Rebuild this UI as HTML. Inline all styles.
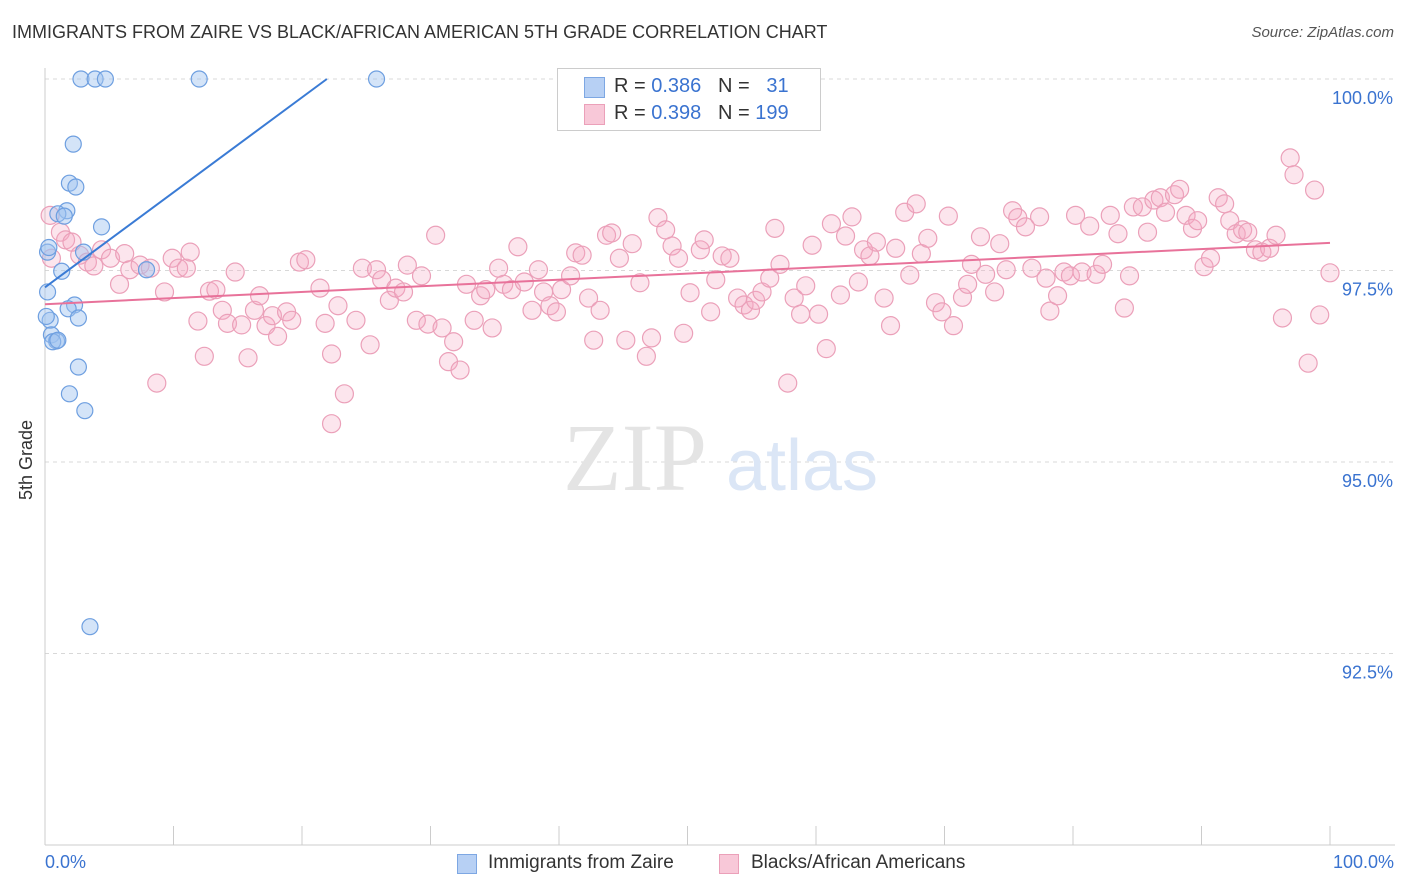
<!DOCTYPE html>
<html><head><meta charset="utf-8"><style>
body{margin:0;background:#fff;font-family:"Liberation Sans",sans-serif;}
#wrap{position:relative;width:1406px;height:892px;overflow:hidden;}
.t{position:absolute;white-space:nowrap;}
</style></head><body>
<div id="wrap">
<div class="t" style="left:12px;top:22px;font-size:18px;color:#333;">IMMIGRANTS FROM ZAIRE VS BLACK/AFRICAN AMERICAN 5TH GRADE CORRELATION CHART</div>
<div class="t" style="right:12px;top:24px;font-size:15px;color:#555;font-style:italic;">Source: ZipAtlas.com</div>
<svg id="plot" width="1406" height="892" style="position:absolute;left:0;top:0"></svg>
<div class="t" style="left:557px;top:68px;width:262px;height:61px;border:1px solid #ccc;background:#fff;">
 <div style="position:absolute;left:26px;top:8px;width:19px;height:19px;background:#b7d0f4;border:1px solid #7da7e3;"></div>
 <div class="t" style="left:56px;top:6px;font-size:20px;color:#333;">R = <span style="color:#3a73d0">0.386</span>&nbsp;&nbsp;&nbsp;N = &nbsp;&nbsp;<span style="color:#3a73d0">31</span></div>
 <div style="position:absolute;left:26px;top:35px;width:19px;height:19px;background:#f8c8d8;border:1px solid #eba0b9;"></div>
 <div class="t" style="left:56px;top:33px;font-size:20px;color:#333;">R = <span style="color:#3a73d0">0.398</span>&nbsp;&nbsp;&nbsp;N = <span style="color:#3a73d0">199</span></div>
</div>
<div class="t" style="left:16px;top:500px;font-size:18px;color:#333;transform:rotate(-90deg);transform-origin:left top;">5th Grade</div>
<div class="t" style="left:45px;top:852px;font-size:18px;color:#3a73d0;">0.0%</div>
<div class="t" style="right:12px;top:852px;font-size:18px;color:#3a73d0;">100.0%</div>
<div class="t" style="left:457px;top:854px;width:20px;height:20px;background:#b7d0f4;border:1px solid #7da7e3;box-sizing:border-box;"></div>
<div class="t" style="left:488px;top:852px;font-size:19px;color:#333;">Immigrants from Zaire</div>
<div class="t" style="left:719px;top:854px;width:20px;height:20px;background:#f8c8d8;border:1px solid #eba0b9;box-sizing:border-box;"></div>
<div class="t" style="left:751px;top:852px;font-size:19px;color:#333;">Blacks/African Americans</div>
</div>
<script>
const yTicks=[100,97.5,95,92.5];
const yTickLabels=["100.0%","97.5%","95.0%","92.5%"];
const blueX=[2.8,3.9,4.7,12.0,25.8,2.2,1.9,2.4,1.7,1.0,1.5,4.4,0.2,3.0,1.3,7.9,0.2,2.3,1.8,2.6,0.4,0.5,0.9,0.6,1.0,2.6,1.9,3.1,3.5,0.1,0.3];
const blueY=[100,100,100,100,100,99.15,98.64,98.59,98.28,98.24,98.21,98.07,97.74,97.74,97.49,97.51,97.22,97.05,97.0,96.88,96.85,96.66,96.58,96.57,96.59,96.24,95.89,95.67,92.85,96.9,97.8];
const pinkX=[0.4,1.2,1.6,2.1,0.5,2.7,3.3,3.8,4.4,5.1,5.8,6.2,6.6,7.4,8.2,8.7,9.3,9.9,10.4,11.0,11.3,11.9,12.4,12.8,13.3,13.8,14.2,14.8,15.3,15.8,16.3,16.7,17.2,17.7,18.1,18.8,19.2,19.8,20.3,21.4,21.8,22.3,22.8,23.3,22.3,24.2,24.7,25.3,25.8,26.2,26.8,27.3,27.9,28.2,28.9,29.3,29.8,30.4,30.9,31.4,31.8,32.3,32.8,33.4,33.9,34.3,34.8,35.3,35.7,36.3,36.8,37.3,37.9,38.4,38.8,39.3,39.8,40.2,40.9,41.3,41.8,42.3,42.7,43.2,43.7,44.1,44.7,45.2,45.7,46.3,46.8,47.2,47.7,48.3,48.8,49.3,49.7,50.2,51.0,51.3,51.8,52.2,52.7,53.3,53.9,54.4,54.9,55.3,55.8,56.4,56.8,57.2,57.8,58.3,58.8,59.2,59.7,60.2,60.8,61.2,61.9,62.3,62.8,63.3,63.7,64.2,64.7,65.3,65.8,66.2,66.9,67.3,67.8,68.2,68.7,69.3,69.8,70.3,70.7,71.4,71.8,72.1,72.8,73.2,73.9,74.3,74.8,75.3,75.7,76.3,76.8,77.4,77.9,78.2,78.8,79.3,79.8,80.2,80.7,81.3,81.8,82.3,82.9,83.5,84.0,84.4,84.7,85.4,85.8,86.3,86.8,87.2,87.9,88.3,88.8,89.3,89.7,90.2,90.7,91.3,91.8,92.2,92.7,93.2,93.6,94.2,94.7,95.3,95.8,96.3,96.9,97.2,98.3,98.8,99.2,100.0];
const pinkY=[98.22,98.0,97.9,97.87,97.66,97.70,97.61,97.56,97.77,97.66,97.32,97.72,97.51,97.57,97.53,96.03,97.22,97.66,97.53,97.53,97.74,96.84,96.38,97.23,97.25,96.98,96.81,97.48,96.79,96.36,96.98,97.17,96.78,96.91,96.64,96.96,96.85,97.61,97.64,97.27,96.81,96.41,97.04,95.89,95.50,96.85,97.53,96.53,97.51,97.38,97.11,97.27,97.22,97.57,96.85,97.43,96.80,97.96,96.75,96.31,96.57,96.20,97.32,96.85,97.17,97.25,96.75,97.53,97.32,97.25,97.81,97.35,96.98,97.51,97.22,97.04,96.96,97.25,97.43,97.73,97.70,97.14,96.59,96.98,97.96,97.99,97.66,96.59,97.85,97.34,96.38,96.62,98.19,98.03,97.82,97.66,96.68,97.21,97.77,97.90,96.96,97.38,97.69,97.66,97.14,97.05,96.98,97.11,97.22,97.40,98.05,97.58,96.03,97.14,96.93,97.30,97.83,96.93,96.48,98.11,97.18,97.95,98.20,97.35,97.77,97.69,97.87,97.14,96.78,97.79,98.26,97.44,98.37,97.72,97.92,97.08,96.96,98.21,96.78,97.15,97.32,97.58,97.94,97.45,97.22,97.85,97.51,98.28,98.19,98.07,97.53,98.20,97.40,96.97,97.17,97.48,97.43,98.22,97.48,98.08,97.45,97.58,98.22,97.98,97.01,97.43,98.33,98.33,98.0,98.42,98.45,98.26,98.49,98.56,98.22,98.05,98.15,97.55,97.66,98.45,98.37,98.15,97.98,98.03,98.0,97.77,97.74,97.79,97.96,96.88,98.97,98.75,96.29,98.55,96.92,97.47];
const blueLine=[97.28,0.124];
const pinkLine=[97.06,0.008];

const X0=45,X1=1330,Y100=79,PX=76.6;
const sx=v=>X0+(X1-X0)*v/100;
const sy=v=>Y100+(100-v)*PX;
const svg=document.getElementById('plot');
const NS='http://www.w3.org/2000/svg';
function mk(t,a){const e=document.createElementNS(NS,t);for(const k in a)e.setAttribute(k,a[k]);svg.appendChild(e);return e;}
yTicks.forEach((v,i)=>{
 const g=mk('line',{x1:X0,x2:1395,y1:sy(v),y2:sy(v),stroke:'#d8d8d8','stroke-dasharray':'4,4'});
 
 
 const t=mk('text',{x:1393,y:sy(v)+25,'text-anchor':'end','font-size':18,fill:'#3a73d0','font-family':'Liberation Sans, sans-serif'});
 t.textContent=yTickLabels[i];
 
 
});
const ax=mk('line',{x1:X0,x2:X0,y1:68,y2:845,stroke:'#ccc'});


const bx=mk('line',{x1:X0,x2:1395,y1:845,y2:845,stroke:'#ccc'});


for(let i=0;i<=10;i++){
 const tk=mk('line',{x1:sx(i*10),x2:sx(i*10),y1:826,y2:845,stroke:'#ccc'});
 
 
}
const w1=mk('text',{x:635,y:490,'text-anchor':'middle','font-size':96,fill:'#e4e4e4','font-family':'Liberation Serif, serif'});
w1.textContent='ZIP';


const w2=mk('text',{x:802,y:490,'text-anchor':'middle','font-size':72,fill:'#dbe6f6','font-family':'Liberation Sans, sans-serif'});
w2.textContent='atlas';


pinkX.forEach((x,i)=>{
 const c=mk('circle',{cx:sx(x),cy:sy(pinkY[i]),r:9,fill:'rgba(244,170,195,0.3)',stroke:'#eba0b9','stroke-width':1.2});
 
 
});
blueX.forEach((x,i)=>{
 const c=mk('circle',{cx:sx(x),cy:sy(blueY[i]),r:8,fill:'rgba(160,195,240,0.45)',stroke:'#6e9fe0','stroke-width':1.2});
 
 
});
const bxEnd=(100-blueLine[0])/blueLine[1];
const bl=mk('line',{x1:sx(0),y1:sy(blueLine[0]),x2:sx(bxEnd),y2:sy(100),stroke:'#3a7bd5','stroke-width':2});


const pl=mk('line',{x1:sx(0),y1:sy(pinkLine[0]),x2:sx(100),y2:sy(pinkLine[0]+pinkLine[1]*100),stroke:'#e8729a','stroke-width':2});


</script>
</body></html>
